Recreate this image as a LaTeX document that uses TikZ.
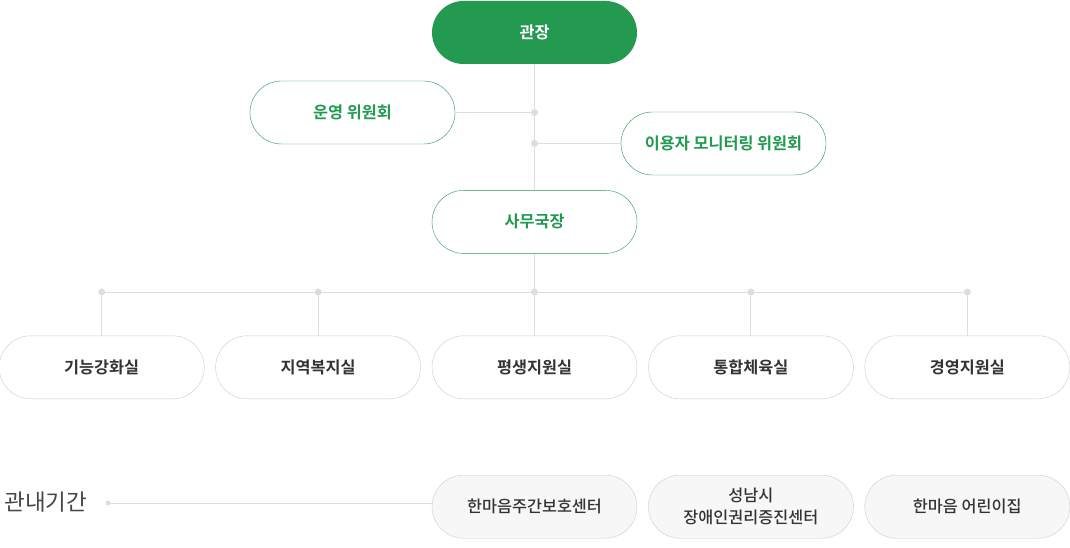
\documentclass[tikz,border=0pt]{standalone}
\usepackage{fontspec}
\setmainfont{Noto Sans CJK KR}[BoldFont={Noto Sans CJK KR Bold}]
\newfontfamily\krmedium{Noto Sans CJK KR Medium}
\usetikzlibrary{positioning}
\definecolor{hgreen}{HTML}{239A50}
\definecolor{boxline}{HTML}{CCCCCC}
\definecolor{linegray}{HTML}{DDDDDD}
\definecolor{textdark}{HTML}{333333}
\definecolor{agencyfill}{HTML}{F7F7F7}
\tikzstyle{pill} = [rectangle, rounded corners=31.5pt, minimum width=205pt, minimum height=63pt, inner sep=0pt, align=center, font=\bfseries\fontsize{16.3}{22}\selectfont]
\tikzstyle{head} = [pill, fill=hgreen, text=white]
\tikzstyle{board} = [pill, draw=hgreen, fill=white, text=hgreen]
\tikzstyle{office} = [pill, draw=boxline, fill=white, text=textdark]
\tikzstyle{agency} = [pill, draw=boxline, fill=agencyfill, text=textdark, font=\krmedium\fontsize{16.3}{22}\selectfont]
\tikzstyle{link} = [draw=linegray, line width=1pt]
\tikzstyle{junction} = [fill=linegray]

\begin{document}
\begin{tikzpicture}
            \useasboundingbox (0,0) rectangle (1070pt,-548pt);
            \node[head] (gwanjang) at (534.5pt,-32.5pt) {관장};
            \node[board, below=126pt of gwanjang] (samu) {사무국장};
            \node[board] (unyeong) at (352.5pt,-112.5pt) {운영 위원회};
            \node[board] (monitor) at (723.5pt,-143.5pt) {이용자 모니터링 위원회};

            \node[office, below=82pt of samu] (pyeong) {평생지원실};
            \node[office, left=11pt of pyeong] (jiyeok) {지역복지실};
            \node[office, left=11pt of jiyeok] (gineung) {기능강화실};
            \node[office, right=11pt of pyeong] (tongham) {통합체육실};
            \node[office, right=11pt of tongham] (gyeong) {경영지원실};

            \node[agency, below=76pt of pyeong] (hanmaum) {한마음주간보호센터};
            \node[agency, below=76pt of tongham] (seongnam) {성남시\\장애인권리증진센터};
            \node[agency, below=76pt of gyeong] (eorini) {한마음 어린이집};
            \node[anchor=west, text=textdark!90, font=\fontsize{22.5}{26}\selectfont] (gwannae) at (1pt,-502pt) {관내기간};

            % junctions
            \coordinate (junyeong) at (gwanjang.south |- unyeong);
            \coordinate (jmonitor) at (gwanjang.south |- monitor);
            \coordinate (bus) at (534.5pt,-292pt);
            \coordinate (jgineung) at (gineung |- bus);
            \coordinate (jjiyeok) at (jiyeok |- bus);
            \coordinate (jpyeong) at (pyeong |- bus);
            \coordinate (jtongham) at (tongham |- bus);
            \coordinate (jgyeong) at (gyeong |- bus);
            \coordinate (jgwannae) at (108pt,-503pt);

            \draw[link] (gwanjang) -- (samu);
            \draw[link] (junyeong) -- (unyeong);
            \draw[link] (jmonitor) -- (monitor);
            \draw[link] (samu) -- (jpyeong);
            \draw[link] (jgineung) -- (jgyeong);
            \draw[link] (jgineung) -- (gineung);
            \draw[link] (jjiyeok) -- (jiyeok);
            \draw[link] (jpyeong) -- (pyeong);
            \draw[link] (jtongham) -- (tongham);
            \draw[link] (jgyeong) -- (gyeong);
            \draw[link] (jgwannae) -- (jgwannae -| hanmaum.west);

            \fill[junction] (junyeong) circle (3.5pt);
            \fill[junction] (jmonitor) circle (3.5pt);
            \fill[junction] (jgineung) circle (3.5pt);
            \fill[junction] (jjiyeok) circle (3.5pt);
            \fill[junction] (jpyeong) circle (3.5pt);
            \fill[junction] (jtongham) circle (3.5pt);
            \fill[junction] (jgyeong) circle (3.5pt);
            \fill[junction] (jgwannae) circle (2.5pt);
        \end{tikzpicture}
\end{document}
